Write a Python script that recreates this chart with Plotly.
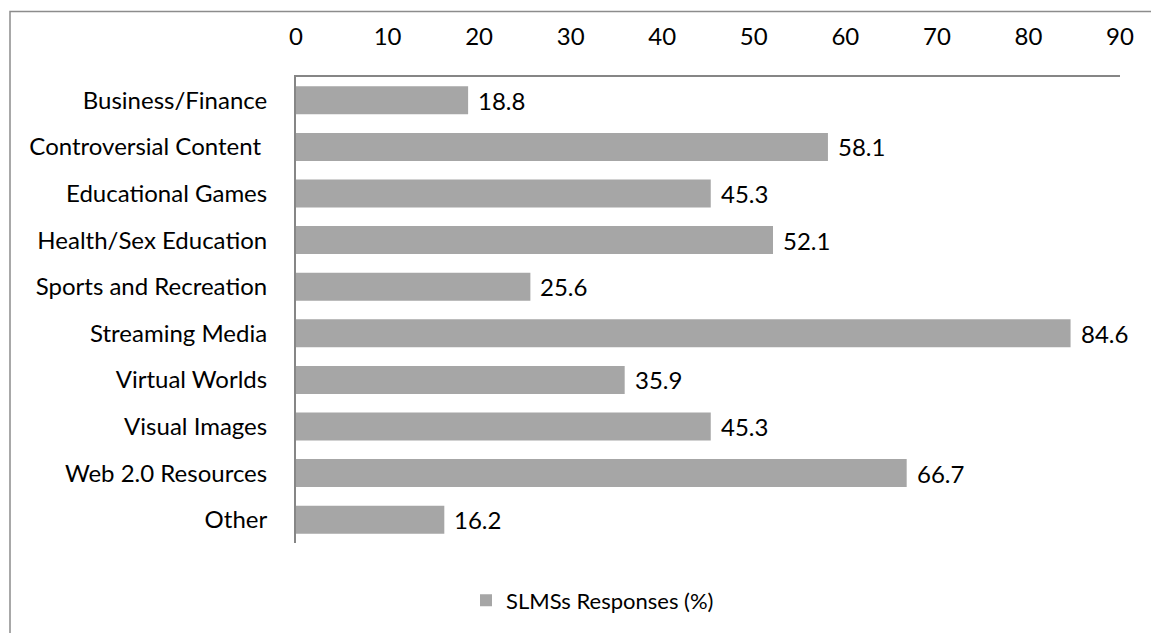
import plotly.graph_objects as go

categories = [
    "Business/Finance",
    "Controversial Content\u00a0",
    "Educational Games",
    "Health/Sex Education",
    "Sports and Recreation",
    "Streaming Media",
    "Virtual Worlds",
    "Visual Images",
    "Web 2.0 Resources",
    "Other",
]
responses = [18.8, 58.1, 45.3, 52.1, 25.6, 84.6, 35.9, 45.3, 66.7, 16.2]
series_name = "SLMSs Responses (%)"
x_ticks = [0, 10, 20, 30, 40, 50, 60, 70, 80, 90]

FONT = "Lato"
FS = 24
W, H = 1151, 633
ML, MR, MT, MB = 296, 31, 77, 86
PW, PH = W - ML - MR, H - MT - MB

fig = go.Figure(
    go.Bar(
        y=categories,
        x=responses,
        orientation="h",
        name=series_name,
        marker=dict(color="#a6a6a6", line=dict(width=0)),
        cliponaxis=False,
        showlegend=True,
    )
)

# value labels to the right of each bar
for cat, val in zip(categories, responses):
    fig.add_annotation(
        x=val, y=cat, xref="x", yref="y",
        text=f"{val:.1f}", showarrow=False,
        xanchor="left", yanchor="middle", xshift=8,
        font=dict(family=FONT, size=FS, color="#000000"),
    )

def px_to_paper_x(px):
    return (px - ML) / PW

def px_to_paper_y(py):
    return (H - MB - py) / PH

# outer chart border (left and top edges visible)
fig.add_shape(
    type="rect",
    xref="paper", yref="paper",
    x0=px_to_paper_x(10), x1=px_to_paper_x(1200),
    y0=px_to_paper_y(700), y1=px_to_paper_y(11),
    line=dict(color="#8c8c8c", width=1.5),
    fillcolor="rgba(0,0,0,0)",
    layer="below",
)

fig.update_layout(
    width=W, height=H,
    margin=dict(l=ML, r=MR, t=MT, b=MB),
    paper_bgcolor="white",
    plot_bgcolor="white",
    font=dict(family=FONT, size=FS, color="#000000"),
    bargap=0.4,
    xaxis=dict(
        side="top",
        range=[0, 90],
        tickvals=x_ticks,
        ticktext=[str(t) for t in x_ticks],
        showgrid=False,
        zeroline=False,
        showline=True,
        linecolor="#868686",
        linewidth=2,
        ticks="",
        ticklabelstandoff=20,
        tickfont=dict(family=FONT, size=FS, color="#000000"),
    ),
    yaxis=dict(
        autorange="reversed",
        showgrid=False,
        zeroline=False,
        showline=True,
        linecolor="#868686",
        linewidth=2,
        ticks="",
        ticklabelstandoff=22,
        tickfont=dict(family=FONT, size=FS, color="#000000"),
    ),
    legend=dict(
        orientation="h",
        x=px_to_paper_x(466), xanchor="left",
        y=px_to_paper_y(605), yanchor="middle",
        font=dict(family=FONT, size=22, color="#000000"),
        itemwidth=30,
        bgcolor="rgba(0,0,0,0)",
    ),
)

fig.write_html("out.html")
